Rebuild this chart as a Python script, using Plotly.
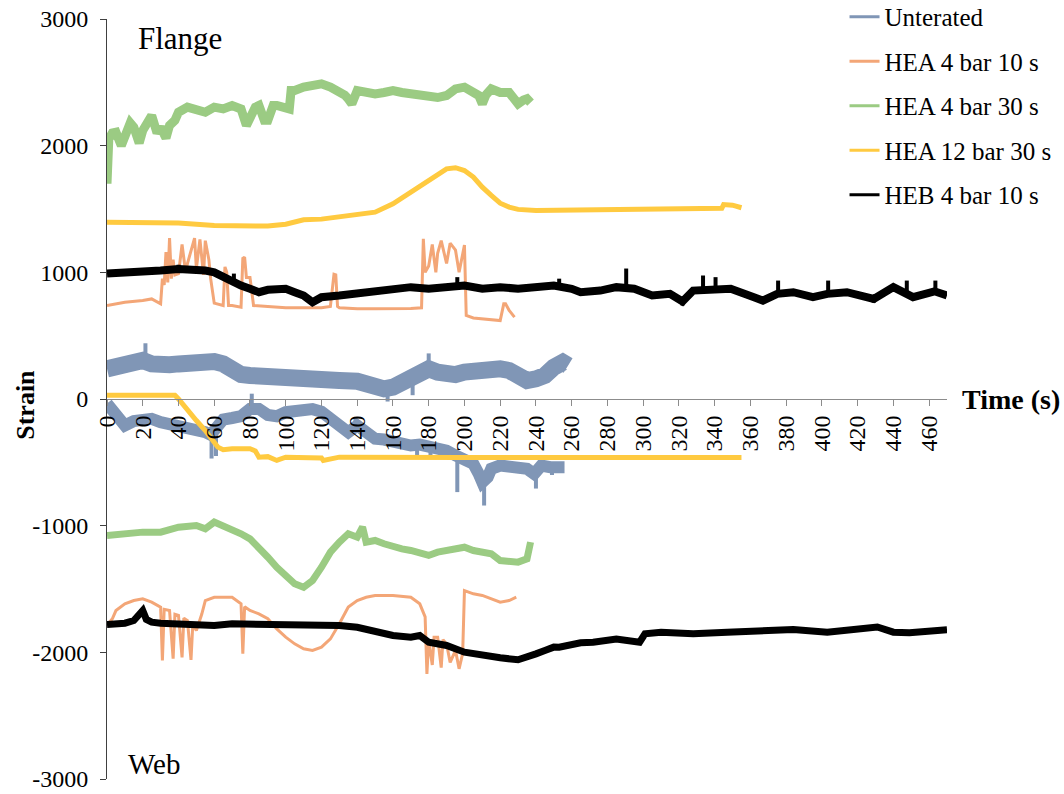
import plotly.graph_objects as go

# ---------------- data ----------------
names = ["Unterated", "HEA 4 bar 10 s", "HEA 4 bar 30 s", "HEA 12 bar 30 s", "HEB 4 bar 10 s"]
colors = ["#8096B6", "#F3A677", "#9BCB83", "#FFCA40", "#000000"]

# Unterated
unt_fl_t = [0, 5, 10, 15, 20, 25, 30, 35, 40, 45, 50, 55, 60, 65, 70, 75, 80, 90, 100, 110, 120, 130, 140,
            150, 155, 160, 165, 170, 175, 180, 185, 190, 195, 200, 205, 210, 215, 220, 225, 230, 235, 240,
            245, 250, 255, 258]
unt_fl_v = [238, 251, 270, 277, 304, 277, 264, 270, 277, 283, 296, 304, 296, 277, 225, 193, 186, 172, 159,
            146, 159, 146, 140, 93, 80, 93, 133, 172, 220, 238, 212, 193, 193, 212, 225, 232, 232, 238, 225,
            186, 146, 159, 186, 251, 290, 264]
unt_fl_spike_t = [21.5, 21.5, None, 157, 157, None, 171, 171, None, 180, 180]
unt_fl_spike_v = [300, 440, None, 60, -20, None, 150, 30, None, 260, 360]
unt_web_t = [0, 5, 10, 15, 20, 25, 30, 35, 40, 45, 50, 55, 58, 60, 62, 65, 70, 75, 80, 85, 90, 95, 100, 105,
             110, 115, 120, 125, 130, 135, 140, 145, 150, 155, 160, 165, 170, 175, 180, 185, 190, 195, 200,
             205, 208, 210, 213, 215, 220, 225, 230, 235, 239, 243, 248, 252, 256]
unt_web_v = [-36, -143, -209, -175, -157, -157, -183, -196, -209, -222, -249, -262, -283, -250, -209, -162,
             -150, -136, -78, -78, -126, -136, -104, -91, -80, -80, -100, -162, -215, -262, -209, -268, -314,
             -320, -341, -354, -367, -360, -380, -380, -407, -446, -491, -512, -591, -657, -617, -551, -525,
             -530, -538, -551, -591, -525, -538, -540, -538]
unt_web_spike_t = [58.5, 58.5, None, 61, 61, None, 81, 81, None, 139, 139, None, 173.5, 173.5, None, 181, 181,
                   None, 196, 196, None, 211, 211, None, 240, 240, None, 249, 249]
unt_web_spike_v = [-283, -470, None, -240, -450, None, -78, 42, None, -230, -150, None, -365, -450, None,
                   -380, -460, None, -450, -735, None, -660, -841, None, -580, -707, None, -538, -600]

# HEA 4 bar 10 s
h410_fl_t = [0, 10, 20, 25, 30, 31, 32, 33, 34, 35, 36, 37, 38, 40, 42, 44, 45, 47, 49, 50, 52, 54, 55,
             57, 58, 60, 65, 66, 67, 68, 70, 75, 76, 77, 78, 80, 82, 90, 100, 110, 120, 125, 127, 128,
             129, 130, 140, 150, 160, 170, 176, 177, 178, 180, 182, 184, 185, 187, 190, 192, 195, 197,
             200, 201, 205, 210, 215, 220, 222, 223, 225, 228]
h410_fl_v = [738, 764, 777, 790, 751, 950, 900, 1160, 920, 1270, 950, 1100, 980, 990, 1220, 1000, 1069,
             1180, 1270, 1030, 1260, 980, 1250, 1100, 950, 757, 738, 1043, 1000, 738, 738, 725, 1110, 1120,
             960, 960, 738, 731, 720, 720, 720, 730, 985, 980, 730, 720, 712, 712, 712, 715, 720, 1264,
             1000, 1050, 1220, 1000, 1150, 1250, 1070, 1230, 1175, 1000, 1215, 659, 640, 632, 625, 619,
             751, 751, 700, 646]
h410_web_t = [0, 3, 5, 10, 15, 20, 25, 30, 31, 32, 35, 37, 38, 40, 42, 43, 45, 47, 48, 50, 53, 55, 60, 65,
              70, 75, 76, 77, 80, 85, 90, 95, 100, 105, 110, 115, 120, 125, 130, 135, 140, 145, 150, 160,
              170, 175, 178, 179, 180, 182, 183, 185, 187, 188, 190, 192, 195, 197, 199, 200, 205, 210,
              215, 220, 225, 229]
h410_web_v = [-1788, -1735, -1670, -1617, -1591, -1578, -1604, -1643, -2065, -1660, -1670, -2050, -1700,
              -1709, -2040, -1730, -1749, -2060, -1780, -1828, -1700, -1591, -1565, -1565, -1565, -1617,
              -2010, -1640, -1670, -1696, -1735, -1815, -1880, -1933, -1972, -1985, -1959, -1894, -1775,
              -1643, -1591, -1565, -1551, -1551, -1565, -1617, -1720, -2170, -1906, -2100, -1880, -1880,
              -2120, -1900, -1933, -2080, -1985, -2130, -2010, -1512, -1538, -1551, -1578, -1604, -1591,
              -1565]

# HEA 4 bar 30 s
h430_fl_t = [0, 0.5, 1, 3, 5, 8, 10, 13, 15, 18, 20, 23, 25, 28, 30, 33, 35, 38, 40, 45, 50, 55, 60, 65,
             70, 75, 78, 80, 83, 85, 88, 90, 93, 95, 100, 102, 103, 105, 110, 115, 120, 125, 130, 133, 135,
             137, 140, 145, 150, 155, 160, 165, 170, 175, 180, 185, 190, 195, 200, 205, 208, 210, 212, 215,
             220, 225, 228, 230, 233, 235, 237]
h430_fl_v = [1700, 1950, 2050, 2100, 2106, 2000, 2067, 2180, 2146, 2020, 2120, 2200, 2238, 2100, 2146, 2060,
             2160, 2200, 2264, 2304, 2290, 2264, 2304, 2290, 2317, 2290, 2160, 2224, 2304, 2317, 2200, 2200,
             2317, 2317, 2304, 2290, 2435, 2435, 2462, 2475, 2488, 2462, 2435, 2400, 2370, 2330, 2435, 2420,
             2409, 2420, 2435, 2420, 2409, 2409, 2396, 2380, 2396, 2448, 2462, 2409, 2396, 2330, 2400, 2448,
             2420, 2420, 2380, 2330, 2360, 2370, 2340]
h430_web_t = [0, 10, 20, 30, 40, 50, 55, 60, 65, 70, 75, 80, 85, 90, 95, 100, 105, 110, 115, 120, 125, 130,
              135, 140, 143, 145, 150, 155, 160, 165, 170, 175, 180, 185, 190, 195, 200, 205, 210, 215, 220,
              225, 230, 235, 237]
h430_web_v = [-1078, -1064, -1051, -1051, -1012, -999, -1025, -972, -999, -1025, -1064, -1104, -1170, -1249,
              -1328, -1394, -1459, -1486, -1433, -1328, -1209, -1130, -1064, -1091, -1010, -1130, -1117,
              -1143, -1170, -1183, -1196, -1222, -1235, -1209, -1196, -1196, -1170, -1196, -1209, -1222,
              -1275, -1288, -1288, -1262, -1130]

# HEA 12 bar 30 s
h1230_fl_t = [0, 20, 40, 60, 80, 90, 100, 110, 120, 130, 140, 150, 160, 170, 180, 185, 190, 195, 200, 205,
              210, 215, 220, 225, 230, 240, 260, 280, 300, 320, 340, 344, 345, 350, 355]
h1230_fl_v = [1396, 1396, 1390, 1370, 1362, 1365, 1380, 1415, 1420, 1441, 1457, 1475, 1541, 1633, 1725, 1778,
              1817, 1826, 1804, 1752, 1672, 1607, 1546, 1515, 1497, 1488, 1490, 1495, 1500, 1500, 1505, 1505,
              1535, 1530, 1510]
h1230_web_t = [0, 20, 38, 40, 45, 50, 55, 58, 60, 62, 65, 70, 80, 83, 85, 90, 95, 100, 120, 121, 130, 150,
               200, 250, 300, 355]
h1230_web_v = [30, 30, 30, 0, -78, -170, -249, -301, -341, -380, -401, -393, -393, -410, -459, -455, -485,
               -459, -465, -485, -459, -462, -462, -462, -462, -462]

# HEB 4 bar 10 s
heb_fl_t = [0, 10, 20, 30, 40, 50, 55, 60, 65, 70, 75, 80, 85, 90, 95, 100, 105, 110, 115, 118, 120, 130, 140,
            150, 160, 170, 180, 190, 200, 210, 220, 230, 240, 250, 260, 265, 276, 285, 295, 302, 305, 315,
            322, 328, 340, 349, 362, 367, 375, 384, 395, 403, 414, 429, 440, 451, 463, 470]
heb_fl_v = [990, 995, 1000, 1014, 1027, 1027, 1014, 1000, 962, 935, 896, 870, 843, 862, 870, 870, 843, 817,
            764, 790, 804, 817, 830, 843, 856, 883, 870, 883, 896, 870, 883, 870, 883, 896, 870, 843, 856, 883,
            870, 843, 817, 830, 770, 856, 860, 870, 804, 777, 830, 843, 804, 830, 843, 790, 883, 804, 850, 817]
heb_fl_spike_t = [40, 40, None, 71, 71, None, 196, 196, None, 253, 253, None, 290.5, 290.5, None, 322, 322,
                  None, 333.5, 333.5, None, 340.5, 340.5, None, 375.5, 375.5, None, 403.5, 403.5, None,
                  429, 429, None, 447.5, 447.5, None, 463.5, 463.5]
heb_fl_spike_v = [1000, 1060, None, 935, 990, None, 890, 962, None, 896, 950, None, 870, 1030, None, 780, 738,
                  None, 850, 975, None, 850, 962, None, 830, 935, None, 830, 935, None, 800, 760, None,
                  850, 935, None, 850, 935]
heb_web_t = [0, 10, 15, 18, 20, 22, 25, 30, 40, 50, 60, 70, 80, 90, 100, 110, 120, 130, 140, 150, 160, 170,
             175, 180, 190, 200, 210, 220, 230, 235, 240, 245, 250, 253, 260, 265, 272, 285, 298, 301, 310,
             328, 347, 365, 384, 403, 421, 431, 440, 449, 470]
heb_web_v = [-1780, -1770, -1749, -1700, -1670, -1740, -1762, -1770, -1775, -1775, -1788, -1775, -1775, -1788,
             -1788, -1780, -1788, -1788, -1802, -1841, -1867, -1880, -1867, -1920, -1946, -1999, -2025, -2043,
             -2059, -2040, -2012, -1985, -1959, -1960, -1933, -1925, -1920, -1894, -1920, -1854, -1841, -1854,
             -1841, -1828, -1820, -1841, -1807, -1800, -1841, -1846, -1822]

x_ticks = list(range(0, 461, 20))
y_ticks = [-3000, -2000, -1000, 0, 1000, 2000, 3000]
y_tick_labels = ["-3000", "-2000", "-1000", "0", "1000", "2000", "3000"]

# (x, y, series index, line width)
curves = [
    (unt_fl_t, unt_fl_v, 0, 17), (unt_fl_spike_t, unt_fl_spike_v, 0, 4),
    (unt_web_t, unt_web_v, 0, 12), (unt_web_spike_t, unt_web_spike_v, 0, 4),
    (h410_fl_t, h410_fl_v, 1, 3), (h410_web_t, h410_web_v, 1, 3),
    (h430_fl_t, h430_fl_v, 2, 9), (h430_web_t, h430_web_v, 2, 7),
    (h1230_fl_t, h1230_fl_v, 3, 5), (h1230_web_t, h1230_web_v, 3, 5),
    (heb_fl_t, heb_fl_v, 4, 8), (heb_fl_spike_t, heb_fl_spike_v, 4, 4),
    (heb_web_t, heb_web_v, 4, 7),
]

FONT = "Liberation Serif, Times New Roman, serif"

fig = go.Figure()
for xs, ys, i, w in curves:
    fig.add_trace(go.Scatter(x=xs, y=ys, mode="lines", name=names[i], legendgroup=names[i],
                             line=dict(color=colors[i], width=w), showlegend=False, connectgaps=False))
# legend entries (thin symbol lines, like the reference legend)
for i in range(len(names)):
    fig.add_trace(go.Scatter(x=[None], y=[None], mode="lines", name=names[i], legendgroup=names[i],
                             line=dict(color=colors[i], width=3), showlegend=True))

fig.update_layout(
    width=1064, height=794,
    margin=dict(l=107, r=117, t=19, b=15, autoexpand=False),
    paper_bgcolor="white", plot_bgcolor="white",
    font=dict(family=FONT, size=24, color="black"),
    showlegend=True,
    legend=dict(x=0.878, y=1.033, xanchor="left", yanchor="top", font=dict(size=25),
                tracegroupgap=9, traceorder="grouped", bgcolor="rgba(0,0,0,0)", itemwidth=30),
    xaxis=dict(range=[0, 470], tickvals=x_ticks, ticktext=[str(v) for v in x_ticks], tickangle=-90,
               showgrid=False, zeroline=False, showline=True, linecolor="#8c8c8c", linewidth=1,
               ticks="outside", ticklen=6, tickcolor="#8c8c8c", anchor="free", position=0.5,
               tickfont=dict(size=24)),
    yaxis=dict(range=[-3000, 3000], tickvals=y_ticks, ticktext=y_tick_labels, showgrid=False,
               zeroline=False, showline=True, linecolor="#404040", linewidth=1, ticks="outside",
               ticklen=6, tickcolor="#404040", tickfont=dict(size=24), ticklabelstandoff=7),
    annotations=[
        dict(text="<b>Strain</b>", x=-0.098, y=0.492, xref="paper", yref="paper", showarrow=False,
             textangle=-90, font=dict(size=26), xanchor="center", yanchor="middle"),
        dict(text="<b>Time (s)</b>", x=1.137, y=0.5, xref="paper", yref="paper", showarrow=False,
             font=dict(size=28), xanchor="right", yanchor="middle"),
        dict(text="Flange", x=0.035, y=0.975, xref="paper", yref="paper", showarrow=False,
             font=dict(size=31), xanchor="left", yanchor="middle"),
        dict(text="Web", x=0.023, y=0.02, xref="paper", yref="paper", showarrow=False,
             font=dict(size=29), xanchor="left", yanchor="middle"),
    ],
)

fig.write_html("out.html")
